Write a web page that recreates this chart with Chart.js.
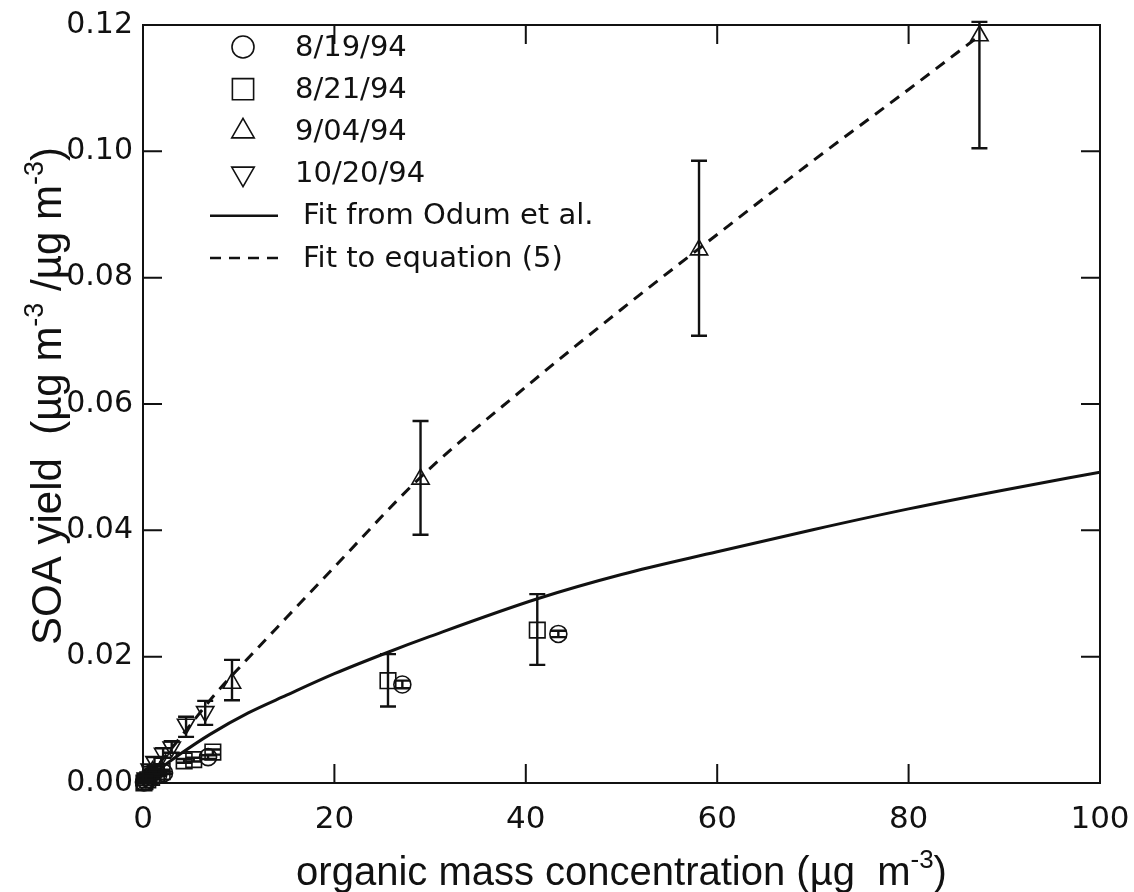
<!DOCTYPE html>
<html>
<head>
<meta charset="utf-8">
<title>SOA yield vs organic mass</title>
<script src="https://cdn.jsdelivr.net/npm/chart.js@4.4.1/dist/chart.umd.min.js"></script>
<style>
  body { margin: 0; background: #fff; }
  canvas { display: block; }
</style>
</head>
<body>
<canvas id="chartSoa" width="1134" height="892"></canvas>
<script>
// ===== Данные =====
const xTickValues = [0, 20, 40, 60, 80, 100];
const yTickValues = [0, 0.02, 0.04, 0.06, 0.08, 0.10, 0.12];

// 8/19/94 (кружки)
const aug19X   = [0.1, 0.3, 0.6, 1.0, 1.6, 2.2, 6.8, 27.1, 43.4];
const aug19Y   = [0.0001, 0.0003, 0.0006, 0.0009, 0.0013, 0.0016, 0.0041, 0.0156, 0.0236];
const aug19Lo  = [0.0000, 0.0002, 0.0005, 0.0008, 0.0011, 0.0014, 0.0038, 0.0150, 0.0231];
const aug19Hi  = [0.0002, 0.0004, 0.0007, 0.0010, 0.0015, 0.0018, 0.0044, 0.0162, 0.0241];

// 8/21/94 (квадраты)
const aug21X   = [0.1, 0.2, 0.5, 0.9, 1.4, 2.0, 4.3, 5.3, 7.3, 25.6, 41.2];
const aug21Y   = [0.0000, 0.0002, 0.0005, 0.0009, 0.0013, 0.0018, 0.0035, 0.0037, 0.0049, 0.0162, 0.0242];
const aug21Lo  = [0.0000, 0.0001, 0.0004, 0.0007, 0.0011, 0.0015, 0.0032, 0.0034, 0.0045, 0.0121, 0.0187];
const aug21Hi  = [0.0001, 0.0003, 0.0006, 0.0011, 0.0015, 0.0021, 0.0038, 0.0040, 0.0053, 0.0204, 0.0299];

// 9/04/94 (треугольники)
const sep04X   = [0.2, 0.5, 1.0, 9.3, 29.0, 58.1, 87.4];
const sep04Y   = [0.0004, 0.0010, 0.0018, 0.0158, 0.0481, 0.0844, 0.1183];
const sep04Lo  = [0.0002, 0.0007, 0.0014, 0.0131, 0.0393, 0.0708, 0.1005];
const sep04Hi  = [0.0006, 0.0013, 0.0022, 0.0195, 0.0573, 0.0985, 0.1205];

// 10/20/94 (перевёрнутые треугольники)
const oct20X   = [0.3, 0.7, 1.2, 2.1, 3.0, 4.5, 6.5];
const oct20Y   = [0.0008, 0.0022, 0.0034, 0.0047, 0.0057, 0.0093, 0.0113];
const oct20Lo  = [0.0005, 0.0018, 0.0028, 0.0040, 0.0048, 0.0073, 0.0092];
const oct20Hi  = [0.0011, 0.0026, 0.0041, 0.0055, 0.0066, 0.0105, 0.0130];

// Fit from Odum et al. (сплошная)
const odumX = [0, 2, 4, 7, 11, 15, 20, 25.6, 30, 41.3, 50, 60, 70, 80, 90, 100];
const odumY = [0, 0.0025, 0.0047, 0.0077, 0.0111, 0.0139, 0.0173, 0.0207, 0.0232, 0.0292, 0.0330, 0.0366, 0.0401, 0.0434, 0.0464, 0.0492];

// Fit to equation (5) (пунктир)
const eq5X = [0.5, 3, 5, 7.5, 10.4, 15, 20, 29, 40, 50, 58.1, 70, 80, 87.4];
const eq5Y = [0.0008, 0.0055, 0.0093, 0.0140, 0.0188, 0.0262, 0.0342, 0.0484, 0.0627, 0.0750, 0.0846, 0.0985, 0.1098, 0.1183];

const INK = '#111';

function toPoints(xs, ys) {
    return xs.map((x, i) => ({ x: x, y: ys[i] }));
}

function markerSet(label, xs, ys, lo, hi, style, radius, rotation) {
    return {
        label: label,
        data: toPoints(xs, ys),
        errLow: lo,
        errHigh: hi,
        pointStyle: style,
        pointRadius: radius,
        pointRotation: rotation || 0,
        pointBorderWidth: 1.6,
        pointBorderColor: INK,
        pointBackgroundColor: 'rgba(0,0,0,0)',
        showLine: false,
        clip: false
    };
}

// ===== Плагины: фон, рамка с тиками, усы ошибок, подписи осей, легенда =====
const whiteBg = {
    id: 'whiteBg',
    beforeDraw(chart) {
        const ctx = chart.ctx;
        ctx.save();
        ctx.fillStyle = '#fff';
        ctx.fillRect(0, 0, chart.width, chart.height);
        ctx.restore();
    }
};

const frameTicks = {
    id: 'frameTicks',
    afterDraw(chart) {
        const { ctx, chartArea: a, scales } = chart;
        const len = 19;
        ctx.save();
        ctx.strokeStyle = INK;
        ctx.lineWidth = 2;
        ctx.strokeRect(a.left, a.top, a.right - a.left, a.bottom - a.top);
        ctx.beginPath();
        xTickValues.forEach(v => {
            const px = scales.x.getPixelForValue(v);
            ctx.moveTo(px, a.bottom); ctx.lineTo(px, a.bottom - len);
            ctx.moveTo(px, a.top);    ctx.lineTo(px, a.top + len);
        });
        yTickValues.forEach(v => {
            const py = scales.y.getPixelForValue(v);
            ctx.moveTo(a.left, py);  ctx.lineTo(a.left + len, py);
            ctx.moveTo(a.right, py); ctx.lineTo(a.right - len, py);
        });
        ctx.stroke();
        ctx.restore();
    }
};

const errorBars = {
    id: 'errorBars',
    afterDatasetsDraw(chart) {
        const { ctx, scales } = chart;
        const cap = 8;
        ctx.save();
        ctx.strokeStyle = INK;
        ctx.lineWidth = 2.4;
        chart.data.datasets.forEach(ds => {
            if (!ds.errLow) return;
            ds.data.forEach((p, i) => {
                const px = scales.x.getPixelForValue(p.x);
                const pLo = scales.y.getPixelForValue(ds.errLow[i]);
                const pHi = scales.y.getPixelForValue(ds.errHigh[i]);
                ctx.beginPath();
                ctx.moveTo(px, pLo); ctx.lineTo(px, pHi);
                ctx.moveTo(px - cap, pLo); ctx.lineTo(px + cap, pLo);
                ctx.moveTo(px - cap, pHi); ctx.lineTo(px + cap, pHi);
                ctx.stroke();
            });
        });
        ctx.restore();
    }
};

// текст с верхними индексами: [['текст', false], ['-3', true], ...]
function drawRich(ctx, parts, x, y, size, supSize) {
    const base = size + 'px "Liberation Sans", Arial, sans-serif';
    const sup = supSize + 'px "Liberation Sans", Arial, sans-serif';
    let total = 0;
    parts.forEach(p => {
        ctx.font = p[1] ? sup : base;
        total += ctx.measureText(p[0]).width;
    });
    let cx = x - total / 2;
    parts.forEach(p => {
        ctx.font = p[1] ? sup : base;
        ctx.fillText(p[0], cx, p[1] ? y - size * 0.42 : y);
        cx += ctx.measureText(p[0]).width;
    });
}

const axisTitles = {
    id: 'axisTitles',
    afterDraw(chart) {
        const { ctx, chartArea: a } = chart;
        ctx.save();
        ctx.fillStyle = INK;
        ctx.textBaseline = 'alphabetic';
        ctx.textAlign = 'left';
        drawRich(ctx, [['organic mass concentration (\u00b5g  m', false], ['-3', true], [')', false]],
            (a.left + a.right) / 2, 885, 40, 26);
        ctx.translate(61, 396);
        ctx.rotate(-Math.PI / 2);
        drawRich(ctx, [['SOA yield  (\u00b5g m', false], ['-3', true], [' /\u00b5g m', false], ['-3', true], [')', false]],
            0, 0, 42, 27);
        ctx.restore();
    }
};

const legendBox = {
    id: 'legendBox',
    afterDraw(chart) {
        const ctx = chart.ctx;
        const rows = [
            { text: '8/19/94', style: 'circle', r: 11, rot: 0 },
            { text: '8/21/94', style: 'rect', r: 15, rot: 0 },
            { text: '9/04/94', style: 'triangle', r: 13, rot: 0 },
            { text: '10/20/94', style: 'triangle', r: 13, rot: 180 },
            { text: 'Fit from Odum et al.', line: [] },
            { text: 'Fit to equation (5)', line: [11, 8] }
        ];
        const top = 47, step = 42.2;
        ctx.save();
        ctx.fillStyle = INK;
        ctx.strokeStyle = INK;
        ctx.font = '29px "DejaVu Sans", sans-serif';
        ctx.textBaseline = 'middle';
        rows.forEach((row, i) => {
            const y = top + i * step;
            if (row.line) {
                ctx.save();
                ctx.lineWidth = 2.6;
                ctx.setLineDash(row.line);
                ctx.beginPath();
                ctx.moveTo(210, y); ctx.lineTo(278, y);
                ctx.stroke();
                ctx.restore();
                ctx.fillText(row.text, 303, y + 1);
            } else {
                ctx.save();
                ctx.lineWidth = 1.6;
                ctx.fillStyle = 'rgba(0,0,0,0)';
                Chart.helpers.drawPoint(ctx, { pointStyle: row.style, radius: row.r, rotation: row.rot, borderWidth: 1.6 }, 243, y);
                ctx.restore();
                ctx.fillText(row.text, 295, y + 1);
            }
        });
        ctx.restore();
    }
};

// ===== Инициализация графика =====
function initSoaChart() {
    const ctx = document.getElementById('chartSoa').getContext('2d');
    return new Chart(ctx, {
        type: 'scatter',
        data: {
            datasets: [
                {
                    label: 'Fit from Odum et al.',
                    data: toPoints(odumX, odumY),
                    showLine: true,
                    borderColor: INK,
                    borderWidth: 3,
                    pointRadius: 0,
                    cubicInterpolationMode: 'monotone'
                },
                {
                    label: 'Fit to equation (5)',
                    data: toPoints(eq5X, eq5Y),
                    showLine: true,
                    borderColor: INK,
                    borderWidth: 3,
                    borderDash: [11, 8],
                    pointRadius: 0,
                    cubicInterpolationMode: 'monotone'
                },
                markerSet('8/19/94', aug19X, aug19Y, aug19Lo, aug19Hi, 'circle', 8.5),
                markerSet('8/21/94', aug21X, aug21Y, aug21Lo, aug21Hi, 'rect', 11),
                markerSet('9/04/94', sep04X, sep04Y, sep04Lo, sep04Hi, 'triangle', 10),
                markerSet('10/20/94', oct20X, oct20Y, oct20Lo, oct20Hi, 'triangle', 10, 180)
            ]
        },
        options: {
            responsive: false,
            animation: false,
            layout: { padding: { left: 0, top: 25, right: 34, bottom: 0 } },
            plugins: {
                legend: { display: false },
                tooltip: { enabled: false }
            },
            scales: {
                x: {
                    type: 'linear',
                    min: 0, max: 100,
                    afterFit: s => { s.height = 109; s.paddingLeft = 0; s.paddingRight = 0; },
                    afterBuildTicks: s => { s.ticks = xTickValues.map(v => ({ value: v })); },
                    grid: { display: false, drawTicks: false },
                    border: { display: false },
                    ticks: {
                        color: INK,
                        padding: 18,
                        font: { family: '"DejaVu Sans", sans-serif', size: 31 },
                        maxRotation: 0
                    }
                },
                y: {
                    type: 'linear',
                    min: 0, max: 0.12,
                    afterFit: s => { s.width = 143; s.paddingTop = 0; s.paddingBottom = 0; },
                    afterBuildTicks: s => { s.ticks = yTickValues.map(v => ({ value: v })); },
                    grid: { display: false, drawTicks: false },
                    border: { display: false },
                    ticks: {
                        color: INK,
                        padding: 10,
                        font: { family: '"DejaVu Sans", sans-serif', size: 30 },
                        callback: v => v.toFixed(2)
                    }
                }
            }
        },
        plugins: [whiteBg, errorBars, frameTicks, axisTitles, legendBox]
    });
}

document.addEventListener('DOMContentLoaded', function() {
    initSoaChart();
});
</script>
</body>
</html>
